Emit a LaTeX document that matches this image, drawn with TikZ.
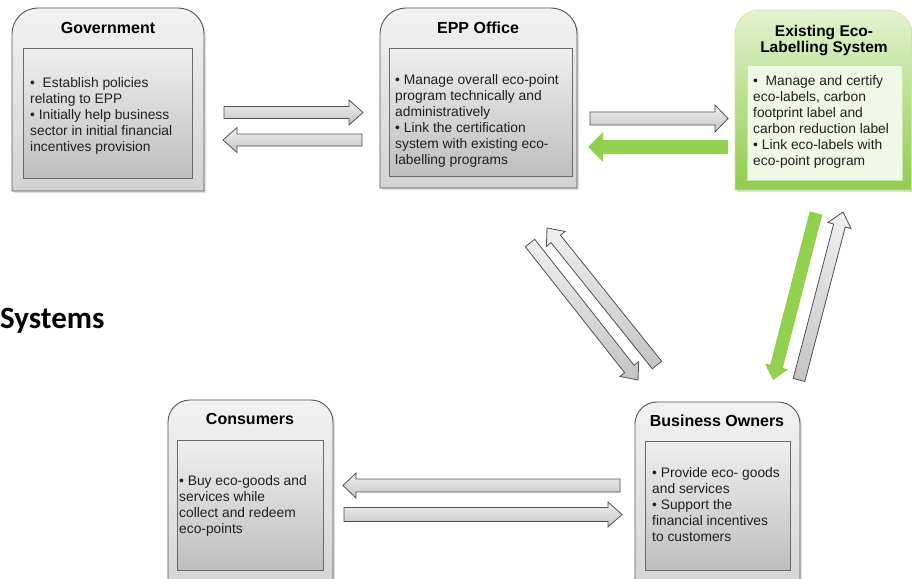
\documentclass[tikz,border=0pt]{standalone}
\usepackage{fontspec}
\setmainfont{Liberation Sans}
\newfontfamily\calibrifont{Carlito}
\usetikzlibrary{calc,shadows}

\definecolor{boxline}{HTML}{555555}
\definecolor{outtop}{HTML}{F2F2F2}
\definecolor{outbot}{HTML}{D2D2D2}
\definecolor{intop}{HTML}{EFEFEF}
\definecolor{inbot}{HTML}{BEBEBE}
\definecolor{inline}{HTML}{6A6A6A}
\definecolor{arrline}{HTML}{505050}
\definecolor{arrtop}{HTML}{F0F0F0}
\definecolor{arrbot}{HTML}{C4C4C4}
\definecolor{leafgreen}{HTML}{92D050}
\definecolor{greentop}{HTML}{E2F3CF}
\definecolor{greenbot}{HTML}{8FCC4E}
\definecolor{greeninner}{HTML}{EFF9E6}
\definecolor{greenedge}{HTML}{C9E6A8}

\newcommand\mkarrow[6]{%
  \coordinate (hb) at ($(#3)!#6!(#2)$);
  \draw[#1] ($(#2)!#4!90:(#3)$) -- ($(hb)!#4!90:(#3)$) -- ($(hb)!#5!90:(#3)$)
    -- (#3) -- ($(hb)!#5!-90:(#3)$) -- ($(hb)!#4!-90:(#3)$)
    -- ($(#2)!#4!-90:(#3)$) -- cycle;
}

\tikzset{
  outerbox/.style={draw=boxline, line width=0.9pt, top color=outtop, bottom color=outbot,
    drop shadow={shadow xshift=2pt, shadow yshift=-2pt, opacity=0.25}},
  greenouter/.style={draw=greenedge, line width=0.6pt, top color=greentop, bottom color=greenbot,
    drop shadow={shadow xshift=2pt, shadow yshift=-2pt, opacity=0.25}},
  innerbox/.style={draw=inline, line width=0.9pt, top color=intop, bottom color=inbot,
    anchor=north west, inner sep=0pt},
  greeninnerbox/.style={draw=greenedge, line width=0.6pt, fill=greeninner,
    anchor=north west, inner sep=0pt},
  titletext/.style={font=\bfseries\fontsize{16}{17}\selectfont, inner sep=0pt, text=black},
  bodytext/.style={font=\fontsize{13.8}{16}\selectfont, align=left, inner sep=0pt,
    anchor=north west, text=black!88},
  grayarrow/.style={draw=arrline, line width=0.8pt, top color=arrtop, bottom color=arrbot},
  greenarrow/.style={draw=none, fill=leafgreen},
}

\begin{document}
\begin{tikzpicture}[x=1pt,y=-1pt]
\useasboundingbox (0,0) rectangle (912,578);

% ---------- outer boxes ----------
\draw[outerbox] (12,191) [rounded corners=26pt] -- (12,8) -- (204,8) [sharp corners] -- (204,191) -- cycle;
\draw[outerbox] (380,188) [rounded corners=26pt] -- (380,8) -- (577,8) [sharp corners] -- (577,188) -- cycle;
\draw[greenouter] (735,190) [rounded corners=24pt] -- (735,10) -- (911.5,10) [sharp corners] -- (911.5,190) -- cycle;
\draw[outerbox] (168,600) [rounded corners=22pt] -- (168,400) -- (333,400) [sharp corners] -- (333,600) -- cycle;
\draw[outerbox] (635,600) [rounded corners=22pt] -- (635,402) -- (800,402) [sharp corners] -- (800,600) -- cycle;

% ---------- inner boxes ----------
\node[innerbox, minimum width=169pt, minimum height=130pt] (govin) at (23,48) {};
\node[innerbox, minimum width=183pt, minimum height=128pt] (eppin) at (389,48) {};
\node[greeninnerbox, minimum width=155pt, minimum height=115pt] (ecoin) at (747,65) {};
\node[innerbox, minimum width=146pt, minimum height=130pt] (consin) at (177,440) {};
\node[innerbox, minimum width=145pt, minimum height=129pt] (busin) at (645,441) {};

% ---------- titles ----------
\node[titletext] (govtitle) at (108,27.5) {Government};
\node[titletext] (epptitle) at (478,27.5) {EPP Office};
\node[titletext, font=\bfseries\fontsize{15.5}{16}\selectfont, align=center] (ecotitle) at (824,41) {Existing Eco-\\Labelling System};
\node[titletext] (constitle) at (250,418.5) {Consumers};
\node[titletext] (bustitle) at (717,420.5) {Business Owners};

% ---------- body texts ----------
\node[bodytext] (govtxt) at (30,77) {•\ \ Establish policies\\relating to EPP\\• Initially help business\\sector in initial financial\\incentives provision};
\node[bodytext] (epptxt) at (395,74) {• Manage overall eco-point\\program technically and\\administratively\\• Link the certification\\system with existing eco-\\labelling programs};
\node[bodytext] (ecotxt) at (753,75) {•\ \ Manage and certify\\eco-labels, carbon\\footprint label and\\carbon reduction label\\• Link eco-labels with\\eco-point program};
\node[bodytext] (constxt) at (179,475) {• Buy eco-goods and\\services while\\collect and redeem\\eco-points};
\node[bodytext] (bustxt) at (652,467) {• Provide eco- goods\\and services\\• Support the\\financial incentives\\to customers};

% ---------- side label ----------
\node[font=\calibrifont\bfseries\fontsize{31}{33}\selectfont, inner sep=0pt, anchor=base west] (systems) at (0,328) {Systems};

% ---------- arrows ----------
\coordinate (a1t) at (224,112.5);  \coordinate (a1h) at (363,112.5);
\coordinate (a2t) at (362,140);    \coordinate (a2h) at (223,140);
\coordinate (a3t) at (590,118.5);  \coordinate (a3h) at (728,118.5);
\coordinate (a4t) at (728,147);    \coordinate (a4h) at (588,147);
\coordinate (a5t) at (530,243);    \coordinate (a5h) at (638,380);
\coordinate (a6t) at (657,365);    \coordinate (a6h) at (547,228);
\coordinate (a7t) at (816,213);    \coordinate (a7h) at (773,380);
\coordinate (a8t) at (799,380);    \coordinate (a8h) at (843,212);
\coordinate (a9t) at (620,485.5);  \coordinate (a9h) at (343,485.5);
\coordinate (a10t) at (344,514.5); \coordinate (a10h) at (622,514.5);

\mkarrow{grayarrow}{a1t}{a1h}{6pt}{12.5pt}{14pt}
\mkarrow{grayarrow}{a2t}{a2h}{6pt}{12.5pt}{14pt}
\mkarrow{grayarrow}{a3t}{a3h}{6.5pt}{13.5pt}{13pt}
\mkarrow{greenarrow}{a4t}{a4h}{7pt}{15pt}{15pt}
\mkarrow{grayarrow}{a5t}{a5h}{6pt}{12pt}{14pt}
\mkarrow{grayarrow}{a6t}{a6h}{6pt}{12pt}{14pt}
\mkarrow{greenarrow}{a7t}{a7h}{6.5pt}{12pt}{14pt}
\mkarrow{grayarrow}{a8t}{a8h}{6pt}{12pt}{14pt}
\mkarrow{grayarrow}{a9t}{a9h}{6.5pt}{12.5pt}{13pt}
\mkarrow{grayarrow}{a10t}{a10h}{7pt}{12.5pt}{14pt}
\end{tikzpicture}
\end{document}
